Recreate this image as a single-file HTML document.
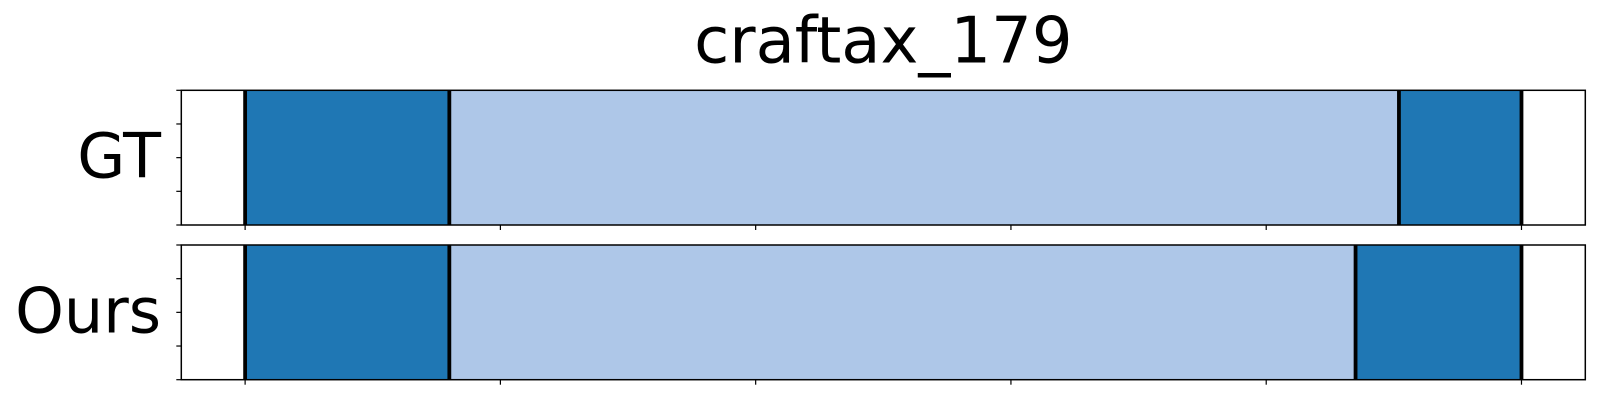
<!DOCTYPE html>
<html><head><meta charset="utf-8"><style>
html,body{margin:0;padding:0;background:#fff;}
svg{display:block;font-family:"DejaVu Sans","Liberation Sans",sans-serif;}
</style></head><body>
<svg id="chart" width="1600" height="400" viewBox="0 0 1600 400">
<text x="883.3" y="62.5" font-size="64" text-anchor="middle" fill="#000">craftax_179</text>
<g id="panels"></g>
</svg>
<script>
const rowLabels = ["GT", "Ours"];
const segStarts = [[0, 80, 452], [0, 80, 435]];
const segEnds = [[80, 452, 500], [80, 435, 500]];
const segClasses = [[0, 1, 0], [0, 1, 0]];
const xTicks = [0, 100, 200, 300, 400, 500];
const classColors = ["#1f77b4", "#aec7e8"];

const NS = "http://www.w3.org/2000/svg";
const axL = 181.3, axR = 1585.3, xMin = -25, xMax = 525;
const panelTops = [90.3, 245];
const panelH = 134.7;
function xs(v){ return axL + (v - xMin) / (xMax - xMin) * (axR - axL); }
function mk(tag, attrs){ const e = document.createElementNS(NS, tag); for (const k in attrs) e.setAttribute(k, attrs[k]); return e; }
const g = document.getElementById("panels");

rowLabels.forEach((lab, r) => {
  const top = panelTops[r], bot = top + panelH;
  const pg = mk("g", {});
  
  
  g.appendChild(pg);
  segStarts[r].forEach((s, i) => {
    const e = segEnds[r][i];
    const rect = mk("rect", {x: xs(s), y: top, width: xs(e) - xs(s), height: panelH, fill: classColors[segClasses[r][i]]});
    
    
    pg.appendChild(rect);
  });
  const bounds = segStarts[r].concat([segEnds[r][segEnds[r].length - 1]]);
  bounds.forEach(b => {
    const l = mk("line", {x1: xs(b), x2: xs(b), y1: top, y2: bot, stroke: "#000", "stroke-width": 3.8});
    
    
    pg.appendChild(l);
  });
  const frame = mk("rect", {x: axL, y: top, width: axR - axL, height: panelH, fill: "none", stroke: "#000", "stroke-width": 1.5});
  
  
  pg.appendChild(frame);
  for (let k = 0; k <= 4; k++) {
    const y = top + panelH * k / 4;
    const t = mk("line", {x1: axL - 5, x2: axL, y1: y, y2: y, stroke: "#000", "stroke-width": 1.2});
    
    
    pg.appendChild(t);
  }
  xTicks.forEach(v => {
    const t = mk("line", {x1: xs(v), x2: xs(v), y1: bot, y2: bot + 5, stroke: "#000", "stroke-width": 1.2});
    
    
    pg.appendChild(t);
  });
  const txt = mk("text", {x: 161, y: top + panelH / 2 + 20, "font-size": 62, "text-anchor": "end", fill: "#000"});
  txt.textContent = lab;
  
  
  pg.appendChild(txt);
});
</script>
</body></html>
